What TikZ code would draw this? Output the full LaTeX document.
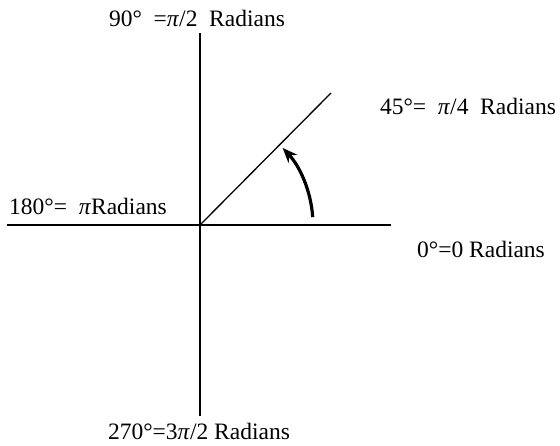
\documentclass[tikz,border=0pt]{standalone}
\usepackage{fontspec}
\setmainfont{Liberation Serif}
\usetikzlibrary{arrows.meta}
\begin{document}
\begin{tikzpicture}[x=1pt,y=-1pt,
  axis/.style={line width=2.8pt},
  ray/.style={line width=1.3pt},
  turn/.style={line width=3.2pt,-{Stealth[length=15pt,width=12pt]}},
  lbl/.style={font=\fontsize{23.5}{27}\selectfont,inner sep=0pt}]
\useasboundingbox (0,0) rectangle (560,445);
\coordinate (O) at (200,225);
\coordinate (L) at (7,225);
\coordinate (R) at (391,225);
\coordinate (T) at (200,33);
\coordinate (B) at (200,416);
\coordinate (D) at (331,93);
\draw[axis] (L) -- (R);
\draw[axis] (T) -- (B);
\draw[ray] (O) -- (D);
\draw[turn] (O) ++(-4:113) arc[start angle=-4,end angle=-43,radius=113];
\node[lbl] (n90) at (197,18) {90°\ \ =\textit{π}/2\ \ Radians};
\node[lbl] (n45) at (468,106) {45°=\ \ \textit{π}/4\ \ Radians};
\node[lbl] (n180) at (88,206) {180°=\ \ \textit{π}Radians};
\node[lbl] (n0) at (481,249) {0°=0\ Radians};
\node[lbl] (n270) at (199,431) {270°=3\textit{π}/2\ Radians};
\end{tikzpicture}
\end{document}
